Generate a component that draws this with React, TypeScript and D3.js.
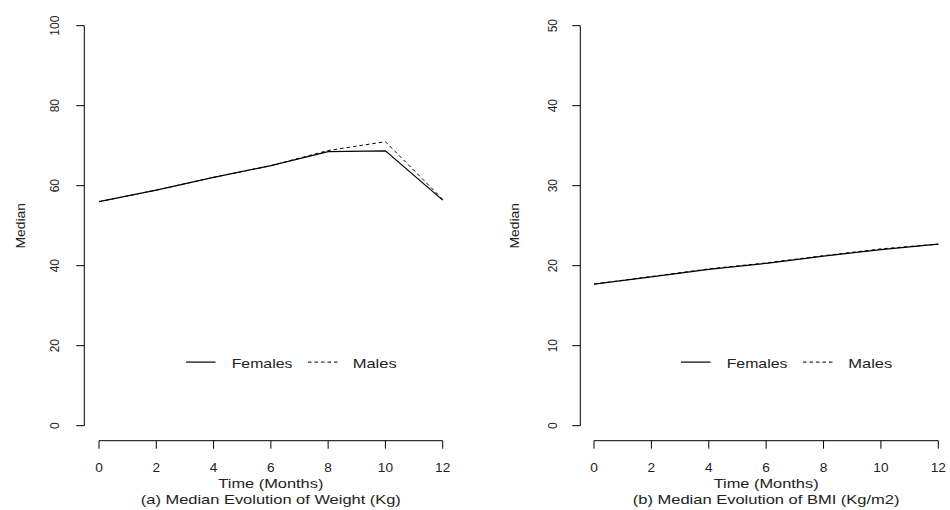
import React from "react";
import * as d3 from "d3";

const months = [0, 2, 4, 6, 8, 10, 12];
const monthTicks = [0, 2, 4, 6, 8, 10, 12];
const weightFemales = [56, 58.9, 62.1, 65, 68.5, 68.7, 56.4];
const weightMales = [56, 58.9, 62.1, 65, 68.8, 71, 56.6];
const bmiFemales = [17.7, 18.6, 19.55, 20.3, 21.2, 22.0, 22.7];
const bmiMales = [17.7, 18.65, 19.6, 20.35, 21.25, 22.1, 22.7];
const weightTicks = [0, 20, 40, 60, 80, 100];
const bmiTicks = [0, 10, 20, 30, 40, 50];
const seriesNames = ["Females", "Males"];
const yLabel = "Median";
const xLabel = "Time (Months)";
const subtitles = ["(a) Median Evolution of Weight (Kg)", "(b) Median Evolution of BMI (Kg/m2)"];
const legendValue = [15.9, 7.95];

const FONT = "'Liberation Sans', Arial, Helvetica, sans-serif";

type PanelProps = {
  x0: number;
  x1: number;
  yAxisX: number;
  yMax: number;
  yTicks: number[];
  fem: number[];
  mal: number[];
  sub: string;
  subW: number;
  tickLabelX: number;
  yLabelX: number;
  legendPos: number[]; // solid start, femText, dashed start, malesText
  legendY: number;
};

function Panel(p: PanelProps) {
  const x = d3.scaleLinear().domain([0, 12]).range([p.x0, p.x1]);
  const y = d3.scaleLinear().domain([0, p.yMax]).range([425.7, 25.7]);
  const line = d3
    .line<number>()
    .x((_, i) => x(months[i]))
    .y((d) => y(d));
  const xAxisY = 440.7;
  const cx = (p.x0 + p.x1) / 2;
  const cy = (y(0) + y(p.yMax)) / 2;
  const ly = y(p.legendY);
  return (
    <g>
      {/* y axis */}
      <line x1={p.yAxisX} x2={p.yAxisX} y1={y(0)} y2={y(p.yMax)} stroke="#000" strokeWidth={1} />
      {p.yTicks.map((t) => (
        <g key={"yt" + t}>
          <line x1={p.yAxisX - 8} x2={p.yAxisX} y1={y(t)} y2={y(t)} stroke="#000" strokeWidth={1} />
          <text
            transform={`translate(${p.tickLabelX},${y(t)}) rotate(-90)`}
            textAnchor="middle"
            fontSize={12}
            fontFamily={FONT}
            fill="#222"
          >
            {t}
          </text>
        </g>
      ))}
      <text
        transform={`translate(${p.yLabelX},${cy}) rotate(-90)`}
        textAnchor="middle"
        fontSize={13}
        fontFamily={FONT}
        textLength={45.5}
        lengthAdjust="spacingAndGlyphs"
        fill="#222"
      >
        {yLabel}
      </text>
      {/* x axis */}
      <line x1={x(0)} x2={x(12)} y1={xAxisY} y2={xAxisY} stroke="#000" strokeWidth={1} />
      {monthTicks.map((t) => (
        <g key={"xt" + t}>
          <line x1={x(t)} x2={x(t)} y1={xAxisY} y2={xAxisY + 8} stroke="#000" strokeWidth={1} />
          <text
            x={x(t)}
            y={471.7}
            textAnchor="middle"
            fontSize={12}
            fontFamily={FONT}
            textLength={String(t).length * 7.6}
            lengthAdjust="spacingAndGlyphs"
            fill="#222"
          >
            {t}
          </text>
        </g>
      ))}
      <text
        x={cx}
        y={487.5}
        textAnchor="middle"
        fontSize={13}
        fontFamily={FONT}
        textLength={105}
        lengthAdjust="spacingAndGlyphs"
        fill="#222"
      >
        {xLabel}
      </text>
      <text
        x={cx}
        y={504}
        textAnchor="middle"
        fontSize={13}
        fontFamily={FONT}
        textLength={p.subW}
        lengthAdjust="spacingAndGlyphs"
        fill="#222"
      >
        {p.sub}
      </text>
      {/* series */}
      <path d={line(p.mal) || ""} fill="none" stroke="#000" strokeWidth={1} strokeDasharray="3.5,3" />
      <path d={line(p.fem) || ""} fill="none" stroke="#000" strokeWidth={1.2} />
      {/* legend */}
      <line x1={p.legendPos[0]} x2={p.legendPos[0] + 29.5} y1={ly} y2={ly} stroke="#000" strokeWidth={1.2} />
      <text
        x={p.legendPos[1]}
        y={ly + 5.7}
        fontSize={13}
        fontFamily={FONT}
        textLength={60.7}
        lengthAdjust="spacingAndGlyphs"
        fill="#222"
      >
        {seriesNames[0]}
      </text>
      <line
        x1={p.legendPos[2]}
        x2={p.legendPos[2] + 29.5}
        y1={ly}
        y2={ly}
        stroke="#000"
        strokeWidth={1}
        strokeDasharray="3.5,3"
      />
      <text
        x={p.legendPos[3]}
        y={ly + 5.7}
        fontSize={13}
        fontFamily={FONT}
        textLength={44}
        lengthAdjust="spacingAndGlyphs"
        fill="#222"
      >
        {seriesNames[1]}
      </text>
    </g>
  );
}

export default function App() {
  return (
    <svg
      width={950}
      height={510}
      viewBox="0 0 950 510"
      style={{ position: "absolute", left: 0, top: 0, background: "#fff", display: "block" }}
    >
      <rect x={0} y={0} width={950} height={510} fill="#fff" />
      <Panel
        x0={99}
        x1={442.7}
        yAxisX={84.3}
        yMax={100}
        yTicks={weightTicks}
        fem={weightFemales}
        mal={weightMales}
        sub={subtitles[0]}
        subW={260}
        tickLabelX={58.5}
        yLabelX={25}
        legendPos={[186, 231.7, 308, 352.7]}
        legendY={legendValue[0]}
      />
      <Panel
        x0={594}
        x1={938.3}
        yAxisX={580.3}
        yMax={50}
        yTicks={bmiTicks}
        fem={bmiFemales}
        mal={bmiMales}
        sub={subtitles[1]}
        subW={266.7}
        tickLabelX={556.5}
        yLabelX={519}
        legendPos={[681, 726.7, 803, 848.3]}
        legendY={legendValue[1]}
      />
    </svg>
  );
}
